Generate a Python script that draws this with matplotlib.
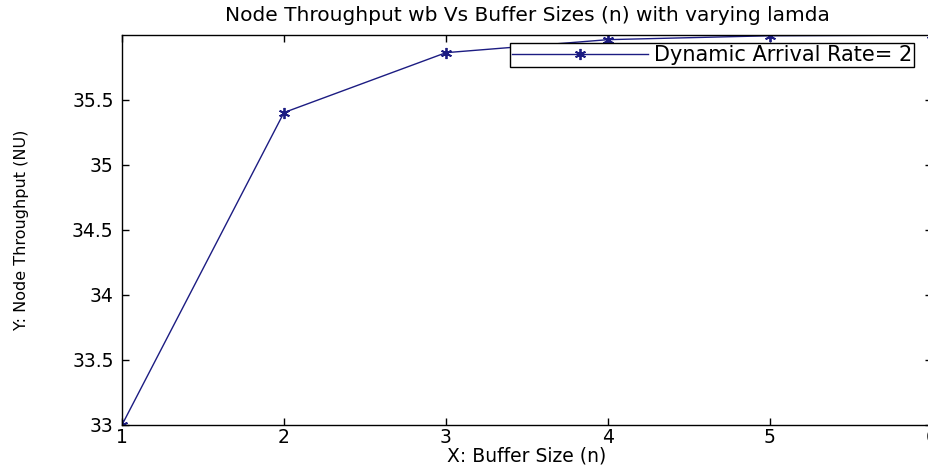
import matplotlib
matplotlib.use('Agg')
import matplotlib.pyplot as plt

# data
buffer_size = [1, 2, 3, 4, 5, 6]
throughput = [33.0, 35.40, 35.86, 35.96, 35.99, 35.995]
y_ticks = [33, 33.5, 34, 34.5, 35, 35.5]

plt.rcParams['font.family'] = ['DejaVu Sans']
navy = '#1c1c82'

fig = plt.figure(figsize=(9.29, 4.68), dpi=100)
# the original screenshot cuts the axes off at the right edge
ax = fig.add_axes([0.1313, 0.092, 0.8719, 0.833])

# matlab style asterisk marker
ax.plot(buffer_size, throughput, '-', marker=(6, 2, 0), color=navy,
        linewidth=1.0, markersize=8, markeredgewidth=1.3,
        label='Dynamic Arrival Rate= 2')

ax.set_xlim(1, 6)
ax.set_ylim(33, 35.995)
ax.set_xticks(buffer_size)
ax.set_yticks(y_ticks)
ax.set_yticklabels(['33', '33.5', '34', '34.5', '35', '35.5'])
ax.tick_params(direction='in', length=5, width=1, top=True, right=True,
               labelsize=13.5, colors='black')
ax.tick_params(axis='y', pad=6)
ax.tick_params(axis='x', pad=2)
for s in ax.spines.values():
    s.set_linewidth(1.0)
    s.set_color('black')

ax.set_title('Node Throughput wb Vs Buffer Sizes (n) with varying lamda',
             fontsize=14.5, pad=10)
ax.set_xlabel('X: Buffer Size (n)', fontsize=13.5, labelpad=0)
ax.set_ylabel('Y: Node Throughput (NU)', fontsize=11.5)
ax.yaxis.set_label_coords(-0.115, 0.5)

leg = ax.legend(loc='upper right', bbox_to_anchor=(0.978, 0.979),
                borderaxespad=0, fancybox=False, edgecolor='black',
                fontsize=15, handlelength=6.5, framealpha=1,
                borderpad=0.1, handletextpad=0.3)
leg.get_frame().set_linewidth(1.0)

fig.savefig('out.png', dpi=100)
